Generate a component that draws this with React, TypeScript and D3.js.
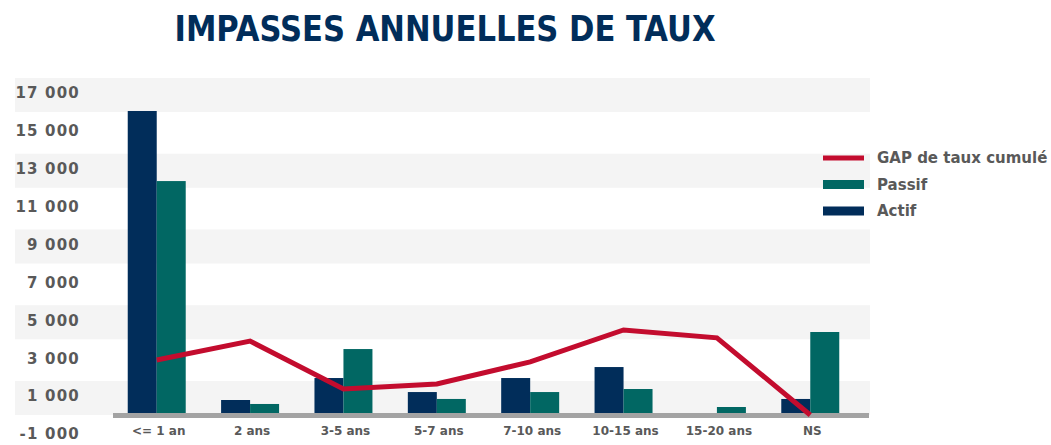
import React from 'react';
import * as d3 from 'd3';

// Maturity buckets and values
const categories = ['<= 1 an', '2 ans', '3-5 ans', '5-7 ans', '7-10 ans', '10-15 ans', '15-20 ans', 'NS'];
const actif = [16050, 790, 1950, 1210, 1950, 2530, 0, 845];
const passif = [12350, 580, 3480, 845, 1210, 1370, 420, 4380];
const gapCumule = [2900, 3900, 1370, 1640, 2800, 4490, 4070, 0];
const yTicks = [-1000, 1000, 3000, 5000, 7000, 9000, 11000, 13000, 15000, 17000];
const shadedTicks = [1000, 5000, 9000, 13000, 17000];

const seriesNames = ['Actif', 'Passif'];
const legendItems = [
  { label: 'GAP de taux cumulé', color: '#C30C2E', thick: 5 },
  { label: 'Passif', color: '#016763', thick: 9 },
  { label: 'Actif', color: '#012D5A', thick: 9 },
];

const W = 1051;
const H = 445;

export default function App() {
  const x = d3.scaleBand<string>()
    .domain(categories)
    .range([110, 857])
    .paddingInner(0.379)
    .paddingOuter(0.19);

  const xInner = d3.scaleBand<string>()
    .domain(seriesNames)
    .range([0, x.bandwidth()]);

  const y = d3.scaleLinear()
    .domain([-1000, 17000])
    .range([433.9, 93]);

  const colors: Record<string, string> = { Actif: '#012D5A', Passif: '#016763' };

  const line = d3.line<number>()
    .x((_, i) => (x(categories[i]) || 0) + x.bandwidth() / 2)
    .y(d => y(d));

  // "17 000" style thousands separator
  const fmt = (v: number) => {
    const s = Math.abs(v).toString();
    const body = s.length > 3 ? s.slice(0, -3) + ' ' + s.slice(-3) : s;
    return (v < 0 ? '-' : '') + body;
  };

  return (
    <div style={{ position: 'absolute', left: 0, top: 0 }}>
      <svg width={W} height={H} style={{ display: 'block', background: '#fff' }}>
        {/* shaded bands */}
        {shadedTicks.map(v => (
          <rect key={v} x={15} width={855} y={y(v + 900) + 2} height={y(v - 900) - y(v + 900)} fill="#F4F4F4" />
        ))}

        {/* title */}
        <text x={445} y={41} textAnchor="middle" fill="#012D5A"
          style={{ fontFamily: '"Liberation Sans Narrow", "DejaVu Sans Condensed", sans-serif', fontWeight: 700, fontSize: 36 }}
          textLength={541} lengthAdjust="spacingAndGlyphs">
          IMPASSES ANNUELLES DE TAUX
        </text>

        {/* y tick labels */}
        {yTicks.map(v => (
          <text key={v} x={80} y={y(v)} dy="0.36em" textAnchor="end" fill="#595959"
            style={{ fontFamily: '"DejaVu Sans", sans-serif', fontWeight: 700, fontSize: 15, letterSpacing: 1.2 }}>
            {fmt(v)}
          </text>
        ))}

        {/* bars */}
        {categories.map((c, i) => (
          <g key={c} transform={`translate(${x(c)},0)`}>
            {[actif[i], passif[i]].map((v, j) => (
              v > 0 ? (
                <rect key={j}
                  x={xInner(seriesNames[j])}
                  width={xInner.bandwidth()}
                  y={y(v)}
                  height={y(0) - y(v)}
                  fill={colors[seriesNames[j]]} />
              ) : null
            ))}
          </g>
        ))}

        {/* zero axis */}
        <line x1={113} x2={869} y1={y(0) + 0.5} y2={y(0) + 0.5} stroke="#A3A3A3" strokeWidth={5} />

        {/* cumulative gap line */}
        <path d={line(gapCumule) || ''} fill="none" stroke="#C30C2E" strokeWidth={5} strokeLinejoin="miter" />

        {/* x labels */}
        {categories.map(c => (
          <text key={c} x={(x(c) || 0) + x.bandwidth() / 2 + 2} y={435} textAnchor="middle" fill="#595959"
            style={{ fontFamily: '"DejaVu Sans", sans-serif', fontWeight: 700, fontSize: 12 }}>
            {c}
          </text>
        ))}

        {/* legend */}
        {legendItems.map((d, i) => (
          <g key={d.label} transform={`translate(823, ${158 + i * 26.5})`}>
            <line x1={0} x2={41} y1={0} y2={0} stroke={d.color} strokeWidth={d.thick} />
            <text x={54} y={0} dy="0.36em" fill="#595959"
              style={{ fontFamily: '"DejaVu Sans", sans-serif', fontWeight: 700, fontSize: 15 }}>
              {d.label}
            </text>
          </g>
        ))}
      </svg>
    </div>
  );
}
